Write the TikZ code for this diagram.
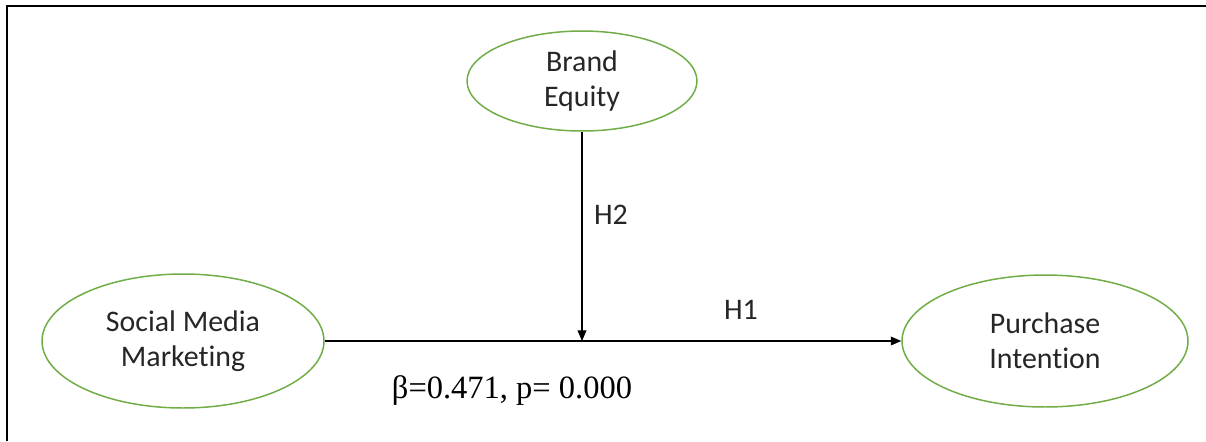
\documentclass[tikz,border=0pt]{standalone}
\usepackage{fontspec}
\setmainfont[Ligatures={NoCommon}]{Carlito}
\newfontfamily\timesfont{Liberation Serif}
\usetikzlibrary{arrows.meta,positioning,shapes.geometric}
\definecolor{constgreen}{HTML}{70AD47}

\begin{document}
\begin{tikzpicture}[x=0.02cm, y=-0.02cm,
  construct/.style={ellipse, draw=constgreen, line width=0.85pt, inner sep=0pt,
    align=center, font=\fontsize{17}{20}\selectfont, text=black!85},
  path/.style={draw=black, line width=0.6pt, -{Triangle[length=6pt,width=5pt]}},
  hyplabel/.style={font=\fontsize{17}{20}\selectfont, text=black!85},
]
% canvas in pixel units (1206 x 441)
\useasboundingbox (0,0) rectangle (1206,441);
\draw[line width=1.3pt] (7,441) -- (7,6) -- (1206,6);

% constructs
\node[construct, minimum width=4.6cm, minimum height=2cm] (be) at (582,81) {Brand\\Equity};
\node[construct, minimum width=5.64cm, minimum height=2.68cm] (smm) at (183,341) {Social Media\\Marketing};
\node[construct, minimum width=5.72cm, minimum height=2.64cm] (pi) at (1045,341) {Purchase\\Intention};

% paths
\coordinate (mod) at (be.south |- smm.east);
\draw[path] (smm.east) -- (pi.west);
\draw[path] (be.south) -- (mod);

% labels
\node[hyplabel] (h2) at (611,215) {H2};
\node[hyplabel] (h1) at (741,310) {H1};
\node[font=\timesfont\fontsize{18.5}{22}\selectfont] (beta) at (512,391) {β=0.471, p= 0.000};
\end{tikzpicture}
\end{document}
